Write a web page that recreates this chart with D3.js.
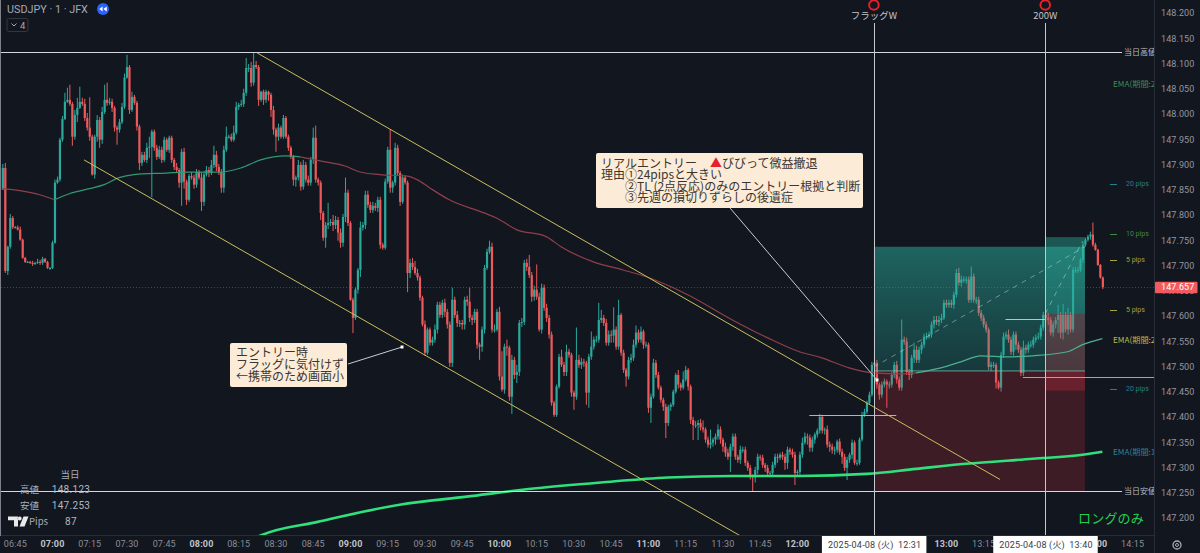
<!DOCTYPE html>
<html>
<head>
<meta charset="utf-8">
<style>
  html, body { margin: 0; padding: 0; background: #12161f; }
  svg { display: block; }
  .latin { font-family: Roboto, "Noto Sans CJK JP", sans-serif; }
  .cjk { font-family: "Noto Sans CJK JP", Roboto, sans-serif; }
</style>
<script src="https://cdnjs.cloudflare.com/ajax/libs/d3/7.9.0/d3.min.js"></script>
</head>
<body>
<svg id="chart" width="1200" height="553"></svg>
<script>
// USD/JPY one-minute session, 2025-04-08. Prices below are thousandths above 147.000.
const firstMinute = 400; // 06:40 as minutes after midnight
const firstOpen = 850;

// One row per quarter hour (first row 06:40-06:44, last row 14:00-14:03)
const closes = [
  893,689,737,794,776,
  775,771,751,715,707,707,705,703,705,707,705,713,707,695,695,
  745,864,870,949,990,1024,1028,1020,955,998,1012,1024,1020,992,973,
  955,880,955,988,949,1004,1028,1022,1024,1012,973,969,984,1014,1072,
  1093,1008,1034,1022,975,903,919,909,933,935,965,933,915,929,909,
  949,929,953,909,895,889,864,925,866,830,877,874,860,885,874,
  826,880,889,883,899,919,895,885,854,929,955,955,949,963,1014,
  1018,1020,1042,1091,1091,1062,1097,1093,1028,1044,1028,1044,1038,1008,969,
  955,973,955,992,955,933,915,870,874,899,856,899,870,864,909,
  953,870,864,804,755,780,784,786,780,790,765,745,796,844,784,
  632,596,652,691,775,780,840,820,810,818,814,830,741,735,866,
  929,854,864,933,883,826,874,864,685,705,697,685,676,636,583,
  527,573,547,553,573,622,602,626,608,583,507,632,602,586,586,
  583,632,628,596,592,608,543,539,573,695,727,737,573,573,608,
  480,454,539,537,440,513,483,489,586,588,705,697,681,638,652,
  638,573,656,616,596,563,428,404,460,519,503,489,529,523,448,
  440,513,503,509,507,448,519,539,553,553,592,596,586,547,563,
  561,573,539,602,527,493,480,513,517,543,567,553,569,543,543,
  418,440,507,483,458,434,420,388,420,424,450,483,464,458,474,
  493,460,394,384,384,388,379,375,355,345,349,355,361,375,355,
  341,329,321,341,361,321,315,335,335,309,299,282,280,295,321,
  319,305,299,289,289,305,321,319,325,321,309,335,331,325,289,
  291,325,349,361,359,339,355,365,373,400,373,375,345,341,335,
  335,351,331,321,299,315,325,349,309,309,355,404,410,428,444,
  503,507,464,444,464,470,464,464,483,503,474,458,553,549,489,
  483,517,533,513,533,543,559,559,563,583,592,588,592,596,626,
  622,626,622,642,685,666,672,672,672,632,678,632,632,606,596,
  583,573,499,503,503,468,458,523,559,563,553,529,563,543,533,
  487,537,533,543,543,553,557,559,577,602,596,592,567,583,592,
  602,567,602,573,602,573,691,691,691,711,741,751,757,761,741,
  731,701,676,657
];
// Wick lengths above and below each candle body, same row layout
const upperWicks = [
  8,10,2,8,4,
  2,4,6,2,2,2,2,4,2,6,4,4,2,2,2,
  4,6,6,4,6,18,24,30,4,10,20,30,8,10,10,
  60,4,4,10,6,10,30,34,8,6,4,4,6,8,8,
  24,4,10,4,4,4,6,6,10,20,4,4,6,8,6,
  6,4,4,4,4,8,4,6,8,4,4,8,6,6,4,
  10,6,8,6,10,18,8,6,6,8,20,4,6,14,10,
  4,8,8,20,8,12,24,8,4,2,4,4,2,4,8,
  4,8,4,6,4,4,4,4,4,10,6,10,6,8,6,
  20,24,4,4,4,6,40,6,14,8,6,8,6,30,6,
  4,4,4,4,12,6,8,8,6,8,6,6,6,4,6,
  6,40,4,10,6,4,6,4,4,8,10,12,8,4,4,
  8,4,4,6,10,6,6,6,8,6,6,24,6,8,6,
  6,6,8,28,6,6,6,4,6,6,6,12,8,10,6,
  10,50,6,14,4,10,6,14,6,8,6,8,24,6,8,
  50,8,8,6,8,6,6,4,4,6,14,6,14,6,4,
  4,64,10,8,6,4,6,30,6,8,34,16,6,8,8,
  8,44,6,30,4,6,4,6,8,10,14,6,10,4,6,
  4,6,8,6,6,4,4,6,4,4,4,4,10,4,16,
  8,4,4,6,8,6,8,14,4,6,26,4,6,10,6,
  4,8,8,6,6,6,4,8,6,6,4,6,4,6,6,
  4,6,4,6,4,6,6,6,4,6,6,6,4,6,6,
  4,6,10,8,6,6,6,4,4,6,4,4,8,6,6,
  6,4,6,6,6,6,4,6,4,6,4,6,6,4,6,
  6,6,6,4,6,6,4,6,6,6,8,6,40,6,8,
  6,6,14,8,6,6,6,8,6,6,8,8,8,8,6,
  6,6,6,6,8,10,8,6,6,6,20,6,6,6,6,
  6,6,4,6,6,4,4,6,8,6,10,6,6,6,6,
  6,14,6,6,8,6,6,8,6,6,6,10,6,6,6,
  20,6,22,6,14,6,6,6,6,4,6,4,4,6,24,
  4,2,2,2
];
const lowerWicks = [
  0,4,8,4,4,
  2,2,2,2,2,2,2,4,2,2,4,4,2,2,4,
  2,2,2,4,4,2,2,4,18,6,14,2,4,6,6,
  8,2,8,10,16,8,4,6,4,8,8,30,6,4,4,
  2,8,4,4,8,14,6,4,6,20,100,6,6,4,6,
  4,4,6,6,6,6,10,46,14,10,4,4,8,6,4,
  18,8,4,8,4,6,8,6,10,10,4,4,4,4,4,
  6,4,6,6,8,8,6,4,12,4,10,6,12,14,10,
  30,8,4,4,4,6,4,12,14,6,8,6,6,6,6,
  8,6,6,14,6,20,8,6,12,8,16,10,8,10,6,
  2,30,4,8,14,6,8,6,6,6,6,8,8,4,4,
  4,10,10,6,6,8,4,4,38,10,6,4,6,6,4,
  6,4,6,6,6,8,6,6,10,8,8,8,6,8,8,
  10,10,8,8,10,6,8,26,10,8,4,4,6,6,4,
  8,4,8,16,8,34,8,16,8,8,6,8,6,10,8,
  6,4,8,6,8,8,6,4,4,4,4,8,8,6,8,
  26,6,6,8,8,24,30,6,6,6,6,6,6,6,6,
  14,14,6,6,6,6,20,6,6,6,6,6,6,8,6,
  10,30,4,6,4,6,8,30,6,8,4,4,8,6,4,
  4,8,8,30,6,30,6,6,6,6,8,8,10,6,8,
  10,8,6,30,8,6,6,8,6,6,6,6,28,10,8,
  6,6,8,6,6,8,6,10,4,6,14,12,6,6,24,
  8,6,6,4,14,8,8,8,6,6,6,8,6,10,8,
  10,6,6,14,6,24,6,8,4,6,4,4,4,4,4,
  4,8,8,10,6,6,46,8,6,6,8,6,6,6,6,
  10,6,10,6,6,8,6,6,4,6,8,6,8,6,4,
  6,6,6,8,6,6,8,6,8,6,6,6,8,6,6,
  6,6,6,8,6,12,4,8,6,6,6,6,8,10,6,
  6,6,8,6,6,6,6,4,6,6,8,10,6,8,8,
  26,12,14,6,10,6,6,6,6,4,6,4,4,6,4,
  2,2,2,4
];

// Medium EMA, switching colour with its regime
const emaMinutes = [400,407,415,421,427,435,441,447,453,466,474,488,496,504,514,520,528,538,544,552,563,567,572,580,594,599,607,619,625,638,650,659,676,694,708,721,730,741,751,762,768,778,786,794,805,815,829,835,843];
const emaValues  = [852,848,840,830,842,852,860,874,880,883,885,885,893,909,917,915,907,897,885,880,877,870,854,830,804,794,771,757,737,707,691,678,642,592,557,529,517,497,487,485,487,497,509,521,519,521,529,543,555];
const emaRegimeBreaks = [400,421,520,768,843];
const emaRegimeColors = ["#8f3f4c","#2f9a72","#8f3f4c","#4fb08e"];

// Slow EMA
const slowEmaMinutes = [498,504,527,560,587,614,641,668,694,721,748,768,788,815,835,843];
const slowEmaValues  = [150,165,192,226,242,258,270,280,283,283,287,297,307,317,325,331];

// Channel drawn over the session: [minute, thousandths] pairs
const channelUpper = [[502.6,1121],[801.8,276]];
const channelLower = [[432.9,909],[697,165]];

// Price levels and event times
const dayHigh = 148.123, dayLow = 147.253, dayPips = 87;
const lastPrice = 147.657;
const flagEntryMinute = 751, emaEntryMinute = 820, positionEndMinute = 836;
const positionA = { entry: 491, target: 737, stop: 252 };
const positionB = { entry: 604, target: 756, stop: 452 };
const levelSegments = [
  { from: 725, to: 760, level: 404, color: "#e2b054" },
  { from: 804, to: 820, level: 594, color: "#d8cc52" },
  { from: 811, to: 864, level: 478, color: "#68c4a4" }
];

const priceTicks = d3.range(0, 21).map(i => 147.2 + i * 0.05);
// Quarter-hour labels; those under the two crosshair tags are left out
const crosshairCovered = [735, 750, 765, 810, 825];
const timeTicks = d3.range(405, 856, 15).filter(m => !crosshairCovered.includes(m));
const pipMarks = [
  { level: 147.862, label: "20 pips", color: "#25808c" },
  { level: 147.763, label: "10 pips", color: "#3f8a44" },
  { level: 147.711, label: "5 pips",  color: "#a8a23e" },
  { level: 147.612, label: "5 pips",  color: "#a8a23e" },
  { level: 147.456, label: "20 pips", color: "#25808c" }
];
const emaTags = [
  { level: 148.060, label: "EMA(期間:2", color: "#3d8a52" },
  { level: 147.553, label: "EMA(期間:2", color: "#b9b94a" },
  { level: 147.331, label: "EMA(期間:1", color: "#2f8092" }
];
const noteEntry = ["エントリー時", "フラッグに気付けず", "←携帯のため画面小"];
const tableRows = [["高値", dayHigh.toFixed(3)], ["安値", dayLow.toFixed(3)], ["Pips", String(dayPips)]];

// Scales
const x = d3.scaleLinear().domain([420, 840]).range([52, 1094.9]);
const y = d3.scaleLinear().domain([147.25, 148.2]).range([492.6, 13]);
const yv = v => y(147 + v / 1000);

// Candle records built from the arrays above
const candles = closes.map((c, i) => {
  const o = i === 0 ? firstOpen : closes[i - 1];
  return {
    minute: firstMinute + i, o, c,
    h: Math.max(o, c) + upperWicks[i],
    l: Math.min(o, c) - lowerWicks[i]
  };
});

const svg = d3.select("#chart");
const defs = svg.append("defs");
defs.append("clipPath").attr("id", "plot").append("rect")
  .attr("x", 1).attr("y", 0).attr("width", 1153).attr("height", 536);

function vGrad(id, topAlpha, botAlpha) {
  const g = defs.append("linearGradient").attr("id", id)
    .attr("x1", 0).attr("x2", 0).attr("y1", 0).attr("y2", 1);
  g.append("stop").attr("offset", 0).attr("stop-color", "#2bb39f").attr("stop-opacity", topAlpha);
  g.append("stop").attr("offset", 1).attr("stop-color", "#26a69a").attr("stop-opacity", botAlpha);
}
vGrad("gainA", 0.5, 0.24);
vGrad("gainB", 0.42, 0.34);

svg.append("rect").attr("width", 1200).attr("height", 553).attr("fill", "#12161f");

const plot = svg.append("g").attr("clip-path", "url(#plot)");

// Candles
const teal = "#2aa99c", red = "#ee5a5c";
const bodyWidth = 2.2;
const candleG = plot.append("g");
candleG.selectAll("line.wick").data(candles).join("line")
  .attr("class", "wick")
  .attr("x1", d => x(d.minute) + 0.5).attr("x2", d => x(d.minute) + 0.5)
  .attr("y1", d => yv(d.h)).attr("y2", d => yv(d.l))
  .attr("stroke", d => d.c >= d.o ? teal : red).attr("stroke-width", 1);
candleG.selectAll("rect.body").data(candles).join("rect")
  .attr("class", "body")
  .attr("x", d => x(d.minute) - bodyWidth / 2 + 0.5)
  .attr("width", bodyWidth)
  .attr("y", d => yv(Math.max(d.o, d.c)))
  .attr("height", d => Math.max(1, Math.abs(yv(d.o) - yv(d.c))))
  .attr("fill", d => d.c >= d.o ? teal : red);

// Position boxes laid over the candles
function zone(x0, x1, top, bottom, fill, op) {
  plot.append("rect").attr("x", x(x0)).attr("width", x(x1) - x(x0))
    .attr("y", yv(top)).attr("height", yv(bottom) - yv(top))
    .attr("fill", fill).attr("fill-opacity", op);
}
zone(flagEntryMinute, positionEndMinute, positionA.target, positionA.entry, "url(#gainA)", 1);
zone(flagEntryMinute, positionEndMinute, positionA.entry, positionA.stop, "#f23645", 0.2);
zone(emaEntryMinute, positionEndMinute, positionB.target, positionB.entry, "url(#gainB)", 1);
zone(emaEntryMinute, positionEndMinute, positionB.entry, positionB.stop, "#f23645", 0.24);

const dashed = [[[751, 499], [836, 737]], [[820, 604], [835, 748]]];
dashed.forEach(seg => {
  plot.append("line")
    .attr("x1", x(seg[0][0])).attr("y1", yv(seg[0][1]))
    .attr("x2", x(seg[1][0])).attr("y2", yv(seg[1][1]))
    .attr("stroke", "#cfe6dc").attr("stroke-opacity", 0.45)
    .attr("stroke-dasharray", "5 5").attr("stroke-width", 1);
});
plot.append("line")
  .attr("x1", x(flagEntryMinute)).attr("x2", x(positionEndMinute))
  .attr("y1", yv(positionA.entry)).attr("y2", yv(positionA.entry))
  .attr("stroke", "#7fc4ac").attr("stroke-opacity", 0.75);

// Moving averages
const lineCurve = d3.line().x(d => x(d[0])).y(d => yv(d[1])).curve(d3.curveMonotoneX);
emaRegimeColors.forEach((color, k) => {
  const a = emaRegimeBreaks[k], b = emaRegimeBreaks[k + 1];
  const pts = emaMinutes.map((m, i) => [m, emaValues[i]]).filter(p => p[0] >= a && p[0] <= b);
  plot.append("path").attr("d", lineCurve(pts)).attr("fill", "none")
    .attr("stroke", color).attr("stroke-width", 1.2);
});
plot.append("path")
  .attr("d", lineCurve(slowEmaMinutes.map((m, i) => [m, slowEmaValues[i]])))
  .attr("fill", "none").attr("stroke", "#2fe07c").attr("stroke-width", 2.6);

// Day high and low
[dayHigh, dayLow].forEach(p => {
  plot.append("line").attr("x1", 1).attr("x2", 1122)
    .attr("y1", Math.round(y(p)) + 0.5).attr("y2", Math.round(y(p)) + 0.5)
    .attr("stroke", "#d4d7de").attr("stroke-width", 1);
});
[[dayHigh, "当日高値"], [dayLow, "当日安値"]].forEach(r => {
  plot.append("text").attr("class", "cjk").attr("x", 1124).attr("y", y(r[0]) + 3)
    .attr("font-size", 8).attr("fill", "#b9bcc4").text(r[1]);
});

// Last price line
plot.append("line").attr("x1", 1).attr("x2", 1154)
  .attr("y1", Math.round(y(lastPrice)) + 0.5).attr("y2", Math.round(y(lastPrice)) + 0.5)
  .attr("stroke", "#ef5350").attr("stroke-opacity", 0.45).attr("stroke-dasharray", "1 2");

// Channel
const channelLine = d3.line().x(d => x(d[0])).y(d => yv(d[1]));
[channelUpper, channelLower].forEach(seg => {
  plot.append("path").attr("d", channelLine(seg)).attr("fill", "none")
    .attr("stroke", "#c9bf5e").attr("stroke-width", 1);
});
levelSegments.forEach(s => {
  plot.append("line").attr("x1", x(s.from)).attr("x2", x(s.to))
    .attr("y1", Math.round(yv(s.level)) + 0.5).attr("y2", Math.round(yv(s.level)) + 0.5)
    .attr("stroke", s.color).attr("stroke-width", 1);
});

// Event verticals
[flagEntryMinute, emaEntryMinute].forEach(m => {
  plot.append("line").attr("x1", Math.round(x(m)) + 0.5).attr("x2", Math.round(x(m)) + 0.5)
    .attr("y1", 23).attr("y2", 536).attr("stroke", "#c5c8cf").attr("stroke-width", 1);
});
[[flagEntryMinute, "フラッグW"], [emaEntryMinute, "200W"]].forEach(r => {
  svg.append("circle").attr("cx", x(r[0])).attr("cy", 5).attr("r", 4.8)
    .attr("fill", "none").attr("stroke", "#e5222c").attr("stroke-width", 2);
  svg.append("text").attr("class", "cjk").attr("x", x(r[0])).attr("y", 18.5)
    .attr("text-anchor", "middle").attr("font-size", 9.5).attr("fill", "#c2c5cc").text(r[1]);
});

// Pip marks on the right edge of the plot
pipMarks.forEach(p => {
  plot.append("line").attr("x1", 1110).attr("x2", 1117)
    .attr("y1", Math.round(y(p.level)) + 0.5).attr("y2", Math.round(y(p.level)) + 0.5)
    .attr("stroke", p.color);
  plot.append("text").attr("class", "latin").attr("x", 1126).attr("y", y(p.level) + 2.5)
    .attr("font-size", 7).attr("fill", p.color).text(p.label);
});
emaTags.forEach(t => {
  plot.append("text").attr("class", "cjk").attr("x", 1113).attr("y", y(t.level) + 3)
    .attr("font-size", 8.2).attr("fill", t.color).text(t.label);
});

plot.append("text").attr("class", "cjk").attr("x", 1078).attr("y", 523)
  .attr("font-size", 13).attr("letter-spacing", 0.2).attr("fill", "#23d150").text("ロングのみ");

// Callouts
function callout(bx, by, bw, bh) {
  svg.append("rect").attr("x", bx).attr("y", by).attr("width", bw).attr("height", bh)
    .attr("rx", 2).attr("fill", "#fcebd6");
}
function leader(x1, y1, x2, y2) {
  svg.append("line").attr("x1", x1).attr("y1", y1).attr("x2", x2).attr("y2", y2)
    .attr("stroke", "#c9ccd3").attr("stroke-width", 1);
  svg.append("rect").attr("x", x2 - 1.5).attr("y", y2 - 1.5).attr("width", 3).attr("height", 3).attr("fill", "#fff");
}
leader(730, 208, 877, 380);
callout(596, 153, 267, 55);
const noteInk = "#3a3631";
function noteLine(tx, ty, s) {
  return svg.append("text").attr("class", "cjk").attr("x", tx).attr("y", ty)
    .attr("font-size", 12).attr("fill", noteInk).text(s);
}
noteLine(601, 167.5, "リアルエントリー");
noteLine(710, 167.5, "▲").attr("fill", "#e5222c");
noteLine(722, 167.5, "びびって微益撤退");
noteLine(601, 179, "理由①24pipsと大きい");
noteLine(625, 190.5, "②TL (2点反応)のみのエントリー根拠と判断");
noteLine(625, 202, "③先週の損切りずらしの後遺症");

leader(348, 364, 402, 347);
callout(230, 343, 117, 44);
noteEntry.forEach((s, i) => noteLine(236, 356.5 + i * 12, s));

// Header
svg.append("text").attr("class", "latin").attr("x", 7).attr("y", 13)
  .attr("font-size", 10.8).attr("fill", "#a6aab3").text("USDJPY · 1 · JFX");
svg.append("circle").attr("cx", 103).attr("cy", 9).attr("r", 6).attr("fill", "#2962ff");
svg.append("path").attr("d", "M102.6 6.4v5.2L99.2 9zM106.8 6.4v5.2L103.4 9z").attr("fill", "#fff");
svg.append("rect").attr("x", 7).attr("y", 18.5).attr("width", 21).attr("height", 13)
  .attr("rx", 1.5).attr("fill", "none").attr("stroke", "#33363f");
svg.append("path").attr("d", "M11.5 23.5l2.5 2.5 2.5-2.5").attr("fill", "none").attr("stroke", "#a6aab3");
svg.append("text").attr("class", "latin").attr("x", 20).attr("y", 29)
  .attr("font-size", 9.5).attr("fill", "#a6aab3").text("4");

// Daily range table
svg.append("text").attr("class", "cjk").attr("x", 70).attr("y", 477.5)
  .attr("text-anchor", "middle").attr("font-size", 9.5).attr("fill", "#a9adb6").text("当日");
tableRows.forEach((r, i) => {
  const ty = 492.5 + i * 16;
  svg.append("text").attr("class", "cjk").attr("x", i === 2 ? 29 : 20).attr("y", ty)
    .attr("font-size", 9.5).attr("fill", "#a9adb6").text(r[0]);
  svg.append("text").attr("class", "latin").attr("x", 71).attr("y", ty)
    .attr("text-anchor", "middle").attr("font-size", 10).attr("letter-spacing", 0.3)
    .attr("fill", "#b4b7bf").text(r[1]);
});
svg.append("path")
  .attr("d", "M8 516.5h10v10h-4v-6.2H8zM19.5 526.5l4-10h5l-4 10zM19.7 516.5a2 2 0 1 0 0.01 0z")
  .attr("fill", "#e8e9ec");

// Axis panes
svg.append("rect").attr("x", 1154).attr("y", 0).attr("width", 46).attr("height", 553).attr("fill", "#12161f");
svg.append("line").attr("x1", 1154.5).attr("x2", 1154.5).attr("y1", 0).attr("y2", 553).attr("stroke", "#2a2d37");
svg.append("line").attr("x1", 1).attr("x2", 1154).attr("y1", 535.5).attr("y2", 535.5).attr("stroke", "#2a2d37");
svg.append("line").attr("x1", 0.5).attr("x2", 0.5).attr("y1", 0).attr("y2", 536).attr("stroke", "#7d808a");

const xAxis = d3.axisBottom(x).tickValues(timeTicks).tickSize(0).tickPadding(5)
  .tickFormat(m => String(Math.floor(m / 60)).padStart(2, "0") + ":" + String(m % 60).padStart(2, "0"));
const xg = svg.append("g").attr("transform", "translate(0,536)").call(xAxis);
xg.select(".domain").remove();
xg.selectAll("text").attr("class", "latin")
  .attr("font-size", 9).attr("letter-spacing", 0.15)
  .attr("fill", m => m % 60 === 0 ? "#c0c3ca" : "#8a8e98")
  .attr("font-weight", m => m % 60 === 0 ? 700 : 400);

const yAxis = d3.axisRight(y).tickValues(priceTicks).tickSize(0).tickPadding(0).tickFormat(d3.format(".3f"));
const yg = svg.append("g").attr("transform", "translate(1161,0)").call(yAxis);
yg.select(".domain").remove();
yg.selectAll("text").attr("class", "latin").attr("font-size", 9).attr("letter-spacing", 0.1).attr("fill", "#9296a0");

// Last price tag
svg.append("rect").attr("x", 1155).attr("y", y(lastPrice) - 5.5).attr("width", 42.5).attr("height", 11.5)
  .attr("rx", 1).attr("fill", "#f15b5f");
svg.append("text").attr("class", "latin").attr("x", 1161).attr("y", y(lastPrice) + 3.2)
  .attr("font-size", 9).attr("letter-spacing", 0.1).attr("fill", "#fff").text(lastPrice.toFixed(3));

// Crosshair time tags
[[flagEntryMinute, "12:31"], [emaEntryMinute, "13:40"]].forEach(r => {
  const cx = x(r[0]);
  svg.append("rect").attr("x", cx - 52).attr("y", 536).attr("width", 104.5).attr("height", 17).attr("fill", "#fff");
  const t = svg.append("text").attr("class", "latin").attr("y", 548).attr("font-size", 9)
    .attr("letter-spacing", 0.2).attr("fill", "#3a3d45");
  t.append("tspan").attr("x", cx - 46).text("2025-04-08 (");
  t.append("tspan").attr("class", "cjk").text("火");
  t.append("tspan").text(")");
  t.append("tspan").attr("x", cx + 24).text(r[1]);
});

// Settings glyph
svg.append("circle").attr("cx", 1177).attr("cy", 545).attr("r", 4).attr("fill", "none").attr("stroke", "#a9adb6").attr("stroke-width", 1.3);
svg.append("circle").attr("cx", 1177).attr("cy", 545).attr("r", 1.5).attr("fill", "none").attr("stroke", "#a9adb6");
</script>
</body>
</html>
